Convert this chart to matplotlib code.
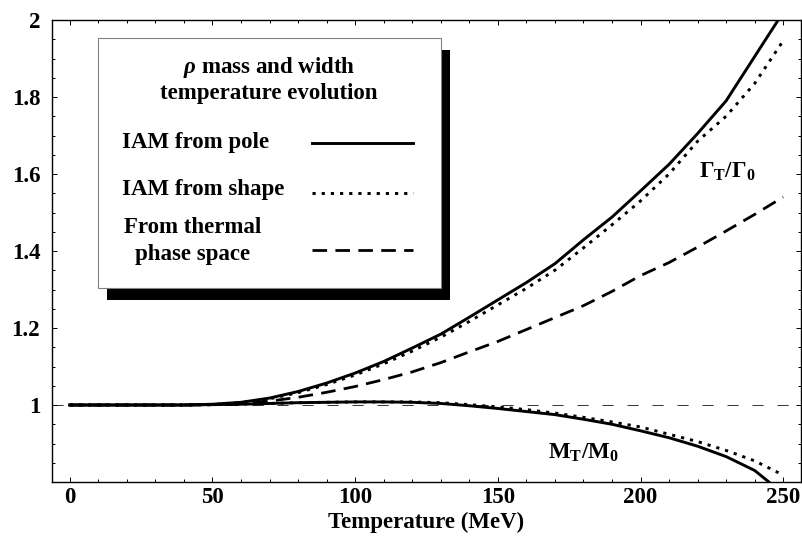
import matplotlib
matplotlib.use('Agg')
import matplotlib.pyplot as plt
from matplotlib.patches import Rectangle
from matplotlib.lines import Line2D
from matplotlib.ticker import MultipleLocator

plt.rcParams['font.family'] = ['Liberation Serif', 'DejaVu Serif']
plt.rcParams['font.weight'] = 'bold'
plt.rcParams['mathtext.fontset'] = 'custom'
plt.rcParams['mathtext.rm'] = 'Liberation Serif:bold'
plt.rcParams['mathtext.it'] = 'Liberation Serif:italic:bold'
plt.rcParams['mathtext.bf'] = 'Liberation Serif:bold'
plt.rcParams['lines.scale_dashes'] = False

# temperature grid (MeV) and curves
temperature = [0, 10, 20, 30, 40, 50, 60, 70, 80, 90, 100, 110, 120, 130,
               140, 150, 160, 170, 180, 190, 200, 210, 220, 230, 240, 250]
width_pole = [1.000, 1.000, 1.000, 1.000, 1.000, 1.002, 1.007, 1.018, 1.035,
              1.057, 1.083, 1.113, 1.148, 1.184, 1.228, 1.273, 1.318, 1.367,
              1.429, 1.488, 1.556, 1.625, 1.705, 1.790, 1.905, 2.020]
width_shape = [1.000, 1.000, 1.000, 1.000, 1.000, 1.001, 1.006, 1.016, 1.032,
               1.053, 1.078, 1.107, 1.140, 1.176, 1.217, 1.260, 1.303, 1.350,
               1.408, 1.468, 1.530, 1.600, 1.685, 1.750, 1.835, 1.946]
width_thermal = [1.000, 1.000, 1.000, 1.000, 1.000, 1.001, 1.004, 1.010, 1.020,
                 1.033, 1.048, 1.066, 1.086, 1.110, 1.138, 1.165, 1.196, 1.227,
                 1.258, 1.295, 1.336, 1.370, 1.410, 1.452, 1.495, 1.540]
mass_pole = [1.000, 1.000, 1.000, 1.000, 1.000, 1.001, 1.002, 1.004, 1.006,
             1.007, 1.008, 1.008, 1.007, 1.004, 0.998, 0.991, 0.983, 0.975,
             0.963, 0.950, 0.933, 0.915, 0.893, 0.866, 0.830, 0.770]
mass_shape = [1.000, 1.000, 1.000, 1.000, 1.000, 1.001, 1.002, 1.004, 1.006,
              1.007, 1.008, 1.008, 1.008, 1.006, 1.001, 0.995, 0.988, 0.979,
              0.968, 0.956, 0.943, 0.924, 0.905, 0.882, 0.855, 0.818]

y_ticks = [1.0, 1.2, 1.4, 1.6, 1.8, 2.0]
y_tick_labels = ['1', '1.2', '1.4', '1.6', '1.8', '2']
x_ticks = [0, 50, 100, 150, 200, 250]

fs = 16.5
W, H = 803, 537

fig = plt.figure(figsize=(W / 100, H / 100), dpi=100)
ax = fig.add_axes([52 / W, 1 - 482 / H, 749 / W, 462 / H])

solid = dict(color='black', lw=2.1, ls='-')
dotted = dict(color='black', lw=2.1, ls=(0, (2.3, 4.3)))
dashed = dict(color='black', lw=2.0, ls=(0, (10.5, 6)))

ax.axhline(1.0, color='#333333', lw=0.7, ls=(0, (8, 10)), zorder=1)
ax.plot(temperature, width_pole, **solid)
ax.plot(temperature, width_shape, **dotted)
ax.plot(temperature, width_thermal, **dashed)
ax.plot(temperature, mass_pole, **solid)
ax.plot(temperature, mass_shape, **dotted)

ax.set_xlim(-6.25, 256.25)
ax.set_ylim(0.8, 2.0)
ax.set_xticks(x_ticks)
ax.set_yticks(y_ticks)
ax.set_yticklabels(y_tick_labels)
ax.xaxis.set_minor_locator(MultipleLocator(10))
ax.yaxis.set_minor_locator(MultipleLocator(0.05))
ax.tick_params(which='both', direction='in', top=True, right=True,
               labelsize=fs, width=0.7)
ax.tick_params(which='major', length=3.6)
ax.tick_params(which='minor', length=2.0)
ax.tick_params(axis='x', pad=3.5)
ax.tick_params(axis='y', pad=8.5)
for sp in ax.spines.values():
    sp.set_linewidth(1.0)
ax.set_xlabel('Temperature (MeV)', fontsize=fs, fontweight='bold', labelpad=3)

ax.text(230.4, 1.59, r'$\Gamma_\mathrm{T}/\Gamma_0$', fontsize=fs,
        ha='center', va='baseline')
ax.text(179.9, 0.86, r'$\mathrm{M_T/M_0}$', fontsize=fs,
        ha='center', va='baseline')

# legend box with drop shadow, in figure pixels
def fx(x):
    return x / W

def fy(y):
    return 1 - y / H

fig.add_artist(Rectangle((fx(107), fy(300)), 343 / W, 250 / H,
                         transform=fig.transFigure, facecolor='black',
                         edgecolor='none', zorder=5))
fig.add_artist(Rectangle((fx(98), fy(288)), 343 / W, 250 / H,
                         transform=fig.transFigure, facecolor='white',
                         edgecolor='#808080', lw=0.8, zorder=6))

fig.text(fx(269), fy(73), r'$\rho$ mass and width', fontsize=fs,
         ha='center', va='baseline', zorder=7)
fig.text(fx(269), fy(99), 'temperature evolution', fontsize=fs,
         ha='center', va='baseline', zorder=7)
fig.text(fx(122), fy(148), 'IAM from pole', fontsize=fs, va='baseline', zorder=7)
fig.text(fx(122), fy(195), 'IAM from shape', fontsize=fs, va='baseline', zorder=7)
fig.text(fx(193), fy(233), 'From thermal', fontsize=fs, ha='center',
         va='baseline', zorder=7)
fig.text(fx(193), fy(260), 'phase space', fontsize=fs, ha='center',
         va='baseline', zorder=7)

for ypix, style in [(143, solid), (193, dotted), (250, dashed)]:
    fig.add_artist(Line2D([fx(312), fx(413)], [fy(ypix), fy(ypix)],
                          transform=fig.transFigure, zorder=7, **style))

fig.savefig('out.png', dpi=100)
